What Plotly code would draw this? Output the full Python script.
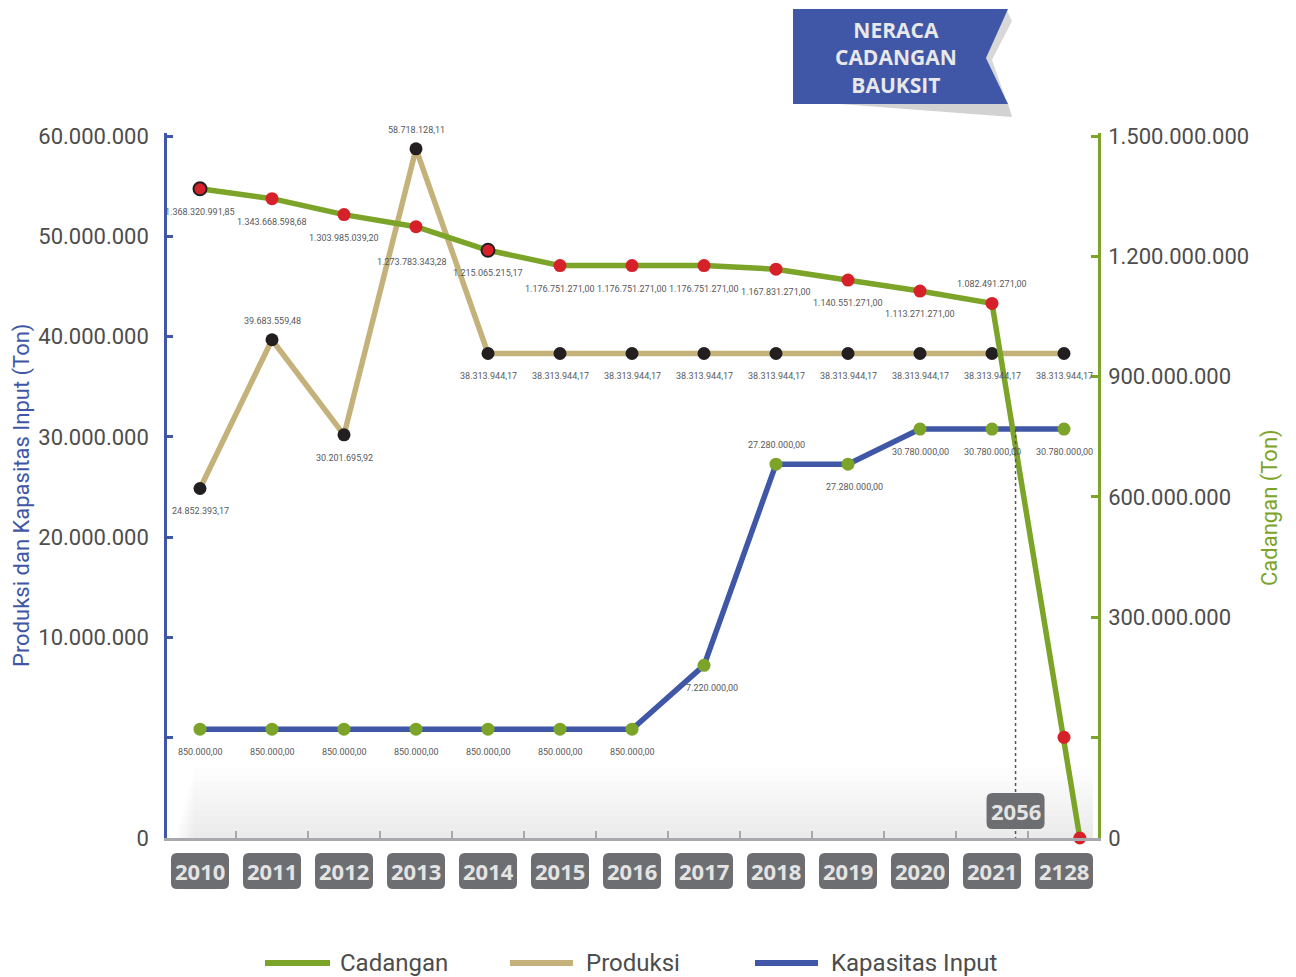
import plotly.graph_objects as go

# ---------------- data ----------------
years = ["2010", "2011", "2012", "2013", "2014", "2015", "2016",
         "2017", "2018", "2019", "2020", "2021", "2128"]
cadangan = [1368320991.85, 1343668598.68, 1303985039.20, 1273783343.28,
            1215065215.17, 1176751271.00, 1176751271.00, 1176751271.00,
            1167831271.00, 1140551271.00, 1113271271.00, 1082491271.00, 0]
produksi = [24852393.17, 39683559.48, 30201695.92, 58718128.11,
            38313944.17, 38313944.17, 38313944.17, 38313944.17,
            38313944.17, 38313944.17, 38313944.17, 38313944.17, 38313944.17]
kapasitas = [850000.00, 850000.00, 850000.00, 850000.00, 850000.00,
             850000.00, 850000.00, 7220000.00, 27280000.00, 27280000.00,
             30780000.00, 30780000.00, 30780000.00]
depletion_year = 2056

left_tickvals = [-10e6, 0, 10e6, 20e6, 30e6, 40e6, 50e6, 60e6]
left_ticktext = ["0", "", "10.000.000", "20.000.000", "30.000.000",
                 "40.000.000", "50.000.000", "60.000.000"]
right_tickvals = [-251e6, 0, 300e6, 600e6, 900e6, 1200e6, 1500e6]
right_ticktext = ["0", "", "300.000.000", "600.000.000", "900.000.000",
                  "1.200.000.000", "1.500.000.000"]
left_range = [-10e6, 60.3e6]
right_range = [-251e6, 1507.5e6]

# label placement: "b" below the point, "t" above, "" none
cad_pos = ["b"] * 11 + ["t", ""]
prod_pos = ["b", "t", "b", "t"] + ["b"] * 9
kap_pos = ["b"] * 8 + ["t"] + ["b"] * 4
# a few labels sit a little further away in the original (pixel nudges)
label_nudge = {("cad", 3): (-4, -12), ("kap", 7): (8, 0), ("kap", 9): (6, 0)}

# ---------------- style ----------------
GREEN = "#7ba428"
TAN = "#c4b27a"
BLUE = "#3f57a6"
RED = "#d7212a"
BLACK = "#231f20"
GREY_TXT = "#4d4d4d"
LBL = "#58595b"
FONT = "Roboto, Lato, sans-serif"
BOLD = "Open Sans, Lato, sans-serif"

W, H = 1296, 977
L, R, T, B = 167, 1098, 133, 838
PW, PH = R - L, B - T
XPX = 72.0  # pixels per category


def px(x):
    return (x - L) / PW


def py(y):
    return (B - y) / PH


def idn(v):
    s = f"{v:,.2f}"
    return s.replace(",", "#").replace(".", ",").replace("#", ".")


xi = list(range(len(years)))

fig = go.Figure()

fig.add_trace(go.Scatter(
    x=xi, y=produksi, mode="lines+markers", name="Produksi",
    line=dict(color=TAN, width=5.5),
    marker=dict(color=BLACK, size=13),
    cliponaxis=False, showlegend=False, yaxis="y"))

fig.add_trace(go.Scatter(
    x=xi, y=kapasitas, mode="lines+markers", name="Kapasitas Input",
    line=dict(color=BLUE, width=5.5),
    marker=dict(color=GREEN, size=13),
    cliponaxis=False, showlegend=False, yaxis="y"))

# Cadangan (right axis); the line ends on the "0" baseline of the original
cad_x = xi + [12.22]
cad_y = cadangan + [right_range[0]]
cad_outline = [2, 0, 0, 0, 2] + [0] * 9

fig.add_trace(go.Scatter(
    x=cad_x, y=cad_y, mode="lines+markers", name="Cadangan",
    line=dict(color=GREEN, width=5.5),
    marker=dict(color=RED, size=13, line=dict(color=BLACK, width=cad_outline)),
    cliponaxis=False, showlegend=False, yaxis="y2"))

annotations = []
# value labels
for key, vals, pos, yref in (("cad", cadangan, cad_pos, "y2"), ("prod", produksi, prod_pos, "y"),
                             ("kap", kapasitas, kap_pos, "y")):
    for i, (v, p) in enumerate(zip(vals, pos)):
        if not p:
            continue
        dx, dy = label_nudge.get((key, i), (0, 0))
        annotations.append(dict(text=idn(v), x=i, y=v, xref="x", yref=yref,
                                showarrow=False, xanchor="center", yanchor="middle",
                                xshift=dx, yshift=(-23 if p == "b" else 19) + dy,
                                font=dict(family=FONT, size=9, color=LBL)))

shapes = []
# soft grey shadow along the base
for k in range(1, 11):
    shapes.append(dict(type="rect", xref="paper", yref="paper",
                       x0=px(174 + 2 * k), x1=px(1093), y0=0, y1=py(B - 7 * k),
                       fillcolor="rgba(0,0,0,0.009)", line=dict(width=0),
                       layer="below"))

# depletion year marker (dotted line)
x_dep = 11 + (depletion_year - int(years[11])) / (int(years[12]) - int(years[11]))
shapes.append(dict(type="line", xref="x", yref="y", x0=x_dep, x1=x_dep,
                   y0=kapasitas[-1], y1=left_range[0],
                   line=dict(color="#555555", width=1.5, dash="dot")))


def poly(points):
    return "M " + " L ".join(f"{px(a):.5f},{py(b):.5f}" for a, b in points) + " Z"


def rounded_box(xc, yc_px, w=58, h=36, r=6):
    """Rounded rectangle centred on data x = xc, pixel y = yc_px."""
    hx = w / 2 / XPX
    rx = r / XPX
    y0 = py(yc_px + h / 2)
    y1 = py(yc_px - h / 2)
    ry = r / PH
    x0, x1 = xc - hx, xc + hx
    return (f"M {x0 + rx},{y0} L {x1 - rx},{y0} Q {x1},{y0} {x1},{y0 + ry} "
            f"L {x1},{y1 - ry} Q {x1},{y1} {x1 - rx},{y1} L {x0 + rx},{y1} "
            f"Q {x0},{y1} {x0},{y1 - ry} L {x0},{y0 + ry} Q {x0},{y0} {x0 + rx},{y0} Z")


for i in xi:
    shapes.append(dict(type="path", xref="x", yref="paper", path=rounded_box(i, 871),
                       fillcolor="#6d6e71", line=dict(width=0)))
shapes.append(dict(type="path", xref="x", yref="paper", path=rounded_box(x_dep, 811),
                   fillcolor="#6d6e71", line=dict(width=0)))

# title ribbon: shadow then blue banner
shapes.append(dict(type="path", xref="paper", yref="paper",
                   path=poly([(840, 104), (1008, 104), (1012, 117)]),
                   fillcolor="#d2d2d2", line=dict(width=0)))
shapes.append(dict(type="path", xref="paper", yref="paper",
                   path=poly([(1006, 9), (1012, 21), (992, 60), (1012, 117), (1008, 104), (986, 58)]),
                   fillcolor="#d8d8d8", line=dict(width=0)))
shapes.append(dict(type="path", xref="paper", yref="paper",
                   path=poly([(793, 9), (1008, 9), (986, 58), (1008, 104), (793, 104)]),
                   fillcolor=BLUE, line=dict(width=0)))

# manual legend lines
legend_items = [("Cadangan", GREEN, 265, 330, 338),
                ("Produksi", TAN, 510, 573, 584),
                ("Kapasitas Input", BLUE, 755, 818, 829)]
for name, col, x0, x1, xt in legend_items:
    shapes.append(dict(type="line", xref="paper", yref="paper",
                       x0=px(x0), x1=px(x1), y0=py(963), y1=py(963),
                       line=dict(color=col, width=6)))

for name, col, x0, x1, xt in legend_items:
    annotations.append(dict(text=name, xref="paper", yref="paper",
                            x=px(xt), y=py(963), xanchor="left", yanchor="middle",
                            showarrow=False,
                            font=dict(family=FONT, size=24, color=GREY_TXT)))

# year labels
for i, yr in enumerate(years):
    annotations.append(dict(text=f"<b>{yr}</b>", xref="x", yref="paper",
                            x=i, y=py(871), xanchor="center", yanchor="middle",
                            showarrow=False,
                            font=dict(family=BOLD, size=22, color="#e4e4e4")))
annotations.append(dict(text=f"<b>{depletion_year}</b>", xref="x", yref="paper",
                        x=x_dep, y=py(811), xanchor="center", yanchor="middle",
                        showarrow=False,
                        font=dict(family=BOLD, size=22, color="#e4e4e4")))

# axis titles
annotations.append(dict(text="Produksi dan Kapasitas Input (Ton)", xref="paper", yref="paper",
                        x=px(22), y=py(496), textangle=-90, showarrow=False,
                        xanchor="center", yanchor="middle",
                        font=dict(family=FONT, size=22, color=BLUE)))
annotations.append(dict(text="Cadangan (Ton)", xref="paper", yref="paper",
                        x=px(1270), y=py(508), textangle=-90, showarrow=False,
                        xanchor="center", yanchor="middle",
                        font=dict(family=FONT, size=22, color=GREEN)))

# ribbon title
annotations.append(dict(text="<b>NERACA<br>CADANGAN<br>BAUKSIT</b>", xref="paper", yref="paper",
                        x=px(896), y=py(57), showarrow=False,
                        xanchor="center", yanchor="middle", align="center",
                        font=dict(family=BOLD, size=21, color="#e8e8e8")))

fig.update_layout(
    width=W, height=H, autosize=False,
    margin=dict(l=L, r=W - R, t=T, b=H - B, pad=0),
    paper_bgcolor="white", plot_bgcolor="white",
    showlegend=False,
    xaxis=dict(range=[(L - 200) / XPX, (R - 200) / XPX], showgrid=False, zeroline=False,
               showline=True, linecolor="#a7a9ac", linewidth=3,
               tickmode="array", tickvals=[i + 0.5 for i in range(12)],
               ticks="inside", ticklen=7, tickwidth=2, tickcolor="#a7a9ac",
               showticklabels=False),
    yaxis=dict(range=left_range, tickmode="array", tickvals=left_tickvals,
               ticktext=left_ticktext, showgrid=False, zeroline=False,
               showline=True, linecolor=BLUE, linewidth=2.5,
               ticks="inside", ticklen=6, tickwidth=2.5, tickcolor=BLUE,
               ticklabelstandoff=11,
               tickfont=dict(family=FONT, size=22, color=GREY_TXT)),
    yaxis2=dict(range=right_range, overlaying="y", side="right", tickmode="array",
                tickvals=right_tickvals, ticktext=right_ticktext,
                showgrid=False, zeroline=False,
                showline=True, linecolor=GREEN, linewidth=2.5,
                ticks="inside", ticklen=7, tickwidth=2.5, tickcolor=GREEN,
                ticklabelstandoff=3,
                tickfont=dict(family=FONT, size=22, color=GREY_TXT)),
    shapes=shapes, annotations=annotations,
)

fig.write_html("out.html", config={"displayModeBar": False},
               post_script="document.body.style.margin='0px';")
